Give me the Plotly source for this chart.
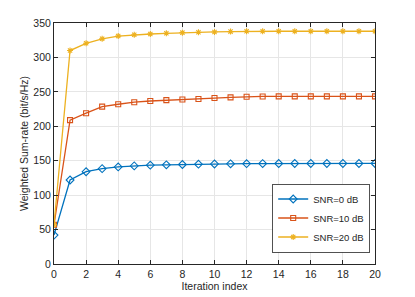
import plotly.graph_objects as go

iterations = list(range(0, 21))
snr0 = [42, 122, 134, 138.5, 141, 142.5, 143.5, 144, 144.5, 145, 145.3, 145.5, 145.7, 145.8, 145.9, 146, 146, 146, 146, 146, 146]
snr10 = [57, 209, 219, 228.5, 232, 235, 236.7, 238, 239, 239.7, 241, 242, 243, 243.3, 243.5, 243.5, 243.5, 243.5, 243.5, 243.5, 243.5]
snr20 = [57, 310, 320.5, 327, 331, 333, 334, 335, 336, 336.5, 337, 337.5, 338, 338, 338, 338, 338, 338, 338, 338, 338]

series = [
    ("SNR=0 dB", snr0, "#0072BD", "diamond-open", 6),
    ("SNR=10 dB", snr10, "#D95319", "square-open", 5),
    ("SNR=20 dB", snr20, "#EDB120", "asterisk-open", 5),
]

fig = go.Figure()
for name, vals, color, sym, size in series:
    fig.add_trace(go.Scatter(
        x=iterations, y=vals, name=name, mode="lines+markers",
        line=dict(color=color, width=1.3),
        marker=dict(symbol=sym, size=size, color=color, line=dict(color=color, width=1.1)),
    ))

font_family = "Liberation Sans, Arial"
axis_common = dict(
    showline=True, linecolor="#262626", linewidth=1, mirror="ticks",
    ticks="inside", ticklen=4, tickcolor="#262626",
    showgrid=True, gridcolor="#E6E6E6", gridwidth=1,
    zeroline=False, automargin=False,
    tickfont=dict(family=font_family, size=10.5, color="#262626"),
)

fig.update_xaxes(range=[0, 20], tick0=0, dtick=2,
                 title=dict(text="Iteration index", font=dict(family=font_family, size=10.5, color="#262626"), standoff=3),
                 **axis_common)
fig.update_yaxes(range=[0, 350], tick0=0, dtick=50,
                 title=dict(text="Weighted Sum-rate (bit/s/Hz)", font=dict(family=font_family, size=10.5, color="#262626"), standoff=2),
                 **axis_common)

# page body has an 8px margin, so the figure starts at (8, 8)
fig.update_layout(
    width=407, height=289,
    margin=dict(l=46, r=39.5, t=14.5, b=33, autoexpand=False),
    paper_bgcolor="white", plot_bgcolor="white",
    legend=dict(x=0.833, y=0.19, xanchor="center", yanchor="middle",
                bgcolor="white", bordercolor="#262626", borderwidth=0.8,
                font=dict(family=font_family, size=9.5, color="#262626"),
                tracegroupgap=0),
    showlegend=True,
)

fig.write_html("out.html")
